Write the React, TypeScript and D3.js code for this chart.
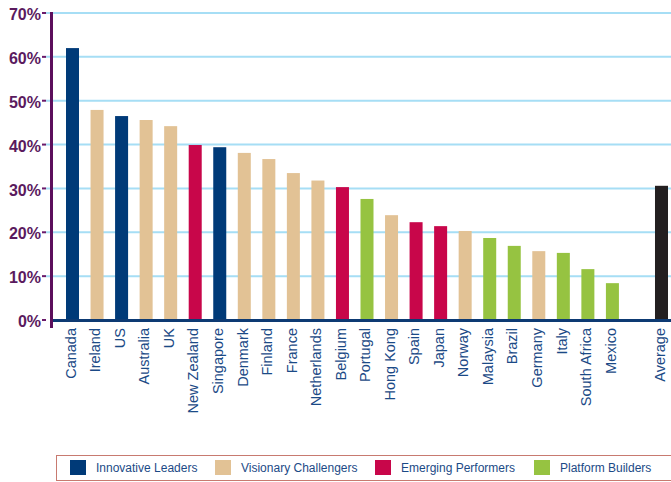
import React, { useEffect, useRef } from 'react';
import * as d3 from 'd3';

const countries = ['Canada', 'Ireland', 'US', 'Australia', 'UK', 'New Zealand', 'Singapore', 'Denmark', 'Finland', 'France', 'Netherlands', 'Belgium', 'Portugal', 'Hong Kong', 'Spain', 'Japan', 'Norway', 'Malaysia', 'Brazil', 'Germany', 'Italy', 'South Africa', 'Mexico', 'Average'];
const values = [62.0, 47.9, 46.5, 45.6, 44.2, 39.9, 39.4, 38.1, 36.7, 33.5, 31.8, 30.3, 27.6, 23.9, 22.3, 21.4, 20.3, 18.7, 16.9, 15.7, 15.3, 11.6, 8.4, 30.6];
const groups = ['IL', 'VC', 'IL', 'VC', 'VC', 'EP', 'IL', 'VC', 'VC', 'VC', 'VC', 'EP', 'PB', 'VC', 'EP', 'EP', 'VC', 'PB', 'PB', 'VC', 'PB', 'PB', 'PB', 'AVG'];
const groupKeys = ['IL', 'VC', 'EP', 'PB', 'AVG'];
const groupColors = ['#003a78', '#e2c295', '#c8064a', '#96c341', '#231f20'];
const legendLabels = ['Innovative Leaders', 'Visionary Challengers', 'Emerging Performers', 'Platform Builders'];
const yTicks = [0, 10, 20, 30, 40, 50, 60, 70];

const drawChart = (el: SVGSVGElement) => {
  const svg = d3.select(el);
  svg.selectAll('*').remove();

  const color = d3.scaleOrdinal<string, string>().domain(groupKeys).range(groupColors);
  const y = d3.scaleLinear().domain([0, 70]).range([320, 13]);
  // one empty slot before Average
  const slots = [...countries.slice(0, -1), '__gap', 'Average'];
  const x = d3.scaleBand<string>().domain(slots).range([66, 668]).paddingInner(0.47).paddingOuter(0);

  // gridlines
  svg.append('g')
    .selectAll('line')
    .data(yTicks.filter(t => t > 0))
    .join('line')
    .attr('x1', 46)
    .attr('x2', 671)
    .attr('y1', d => y(d))
    .attr('y2', d => y(d))
    .attr('stroke', '#a6def5')
    .attr('stroke-width', 2);

  // small ticks
  svg.append('g')
    .selectAll('line')
    .data(yTicks)
    .join('line')
    .attr('x1', 42)
    .attr('x2', 46)
    .attr('y1', d => y(d))
    .attr('y2', d => y(d))
    .attr('stroke', '#6a1a6a')
    .attr('stroke-width', 2);

  // y labels
  svg.append('g')
    .selectAll('text')
    .data(yTicks)
    .join('text')
    .attr('x', 41)
    .attr('y', d => y(d))
    .attr('dy', '0.45em')
    .attr('text-anchor', 'end')
    .attr('font-family', 'Liberation Sans, Arial, sans-serif')
    .attr('font-weight', 'bold')
    .attr('font-size', 16)
    .attr('fill', '#5a1a5e')
    .text(d => `${d}%`);

  // bars
  svg.append('g')
    .selectAll('rect')
    .data(countries)
    .join('rect')
    .attr('x', d => x(d) as number)
    .attr('width', x.bandwidth())
    .attr('y', (d, i) => y(values[i]))
    .attr('height', (d, i) => y(0) - y(values[i]) + (groups[i] === 'AVG' ? 2 : 0))
    .attr('fill', (d, i) => color(groups[i]));

  // baseline
  svg.append('line')
    .attr('x1', 52)
    .attr('x2', 671)
    .attr('y1', y(0) + 0.5)
    .attr('y2', y(0) + 0.5)
    .attr('stroke', '#0d3a73')
    .attr('stroke-width', 3);

  // vertical axis
  svg.append('line')
    .attr('x1', 51.5)
    .attr('x2', 51.5)
    .attr('y1', 12)
    .attr('y2', 328)
    .attr('stroke', '#5c0f5c')
    .attr('stroke-width', 3);

  // x labels
  svg.append('g')
    .selectAll('text')
    .data(countries)
    .join('text')
    .attr('transform', d => `translate(${(x(d) as number) + x.bandwidth() / 2 - 2},328) rotate(-90)`)
    .attr('dy', '0.36em')
    .attr('text-anchor', 'end')
    .attr('font-family', 'Liberation Sans, Arial, sans-serif')
    .attr('font-size', 14.5)
    .attr('fill', '#1b4a86')
    .text(d => d);

  // legend
  const legend = svg.append('g');
  legend.append('rect')
    .attr('x', 56.5)
    .attr('y', 455.5)
    .attr('width', 620)
    .attr('height', 25)
    .attr('fill', 'none')
    .attr('stroke', '#c87a70')
    .attr('stroke-width', 1);

  const itemX = [70, 215, 375, 534];
  const item = legend.selectAll('g.item')
    .data(legendLabels)
    .join('g')
    .attr('class', 'item')
    .attr('transform', (d, i) => `translate(${itemX[i]},460)`);
  item.append('rect')
    .attr('width', 16)
    .attr('height', 15)
    .attr('fill', (d, i) => color(groupKeys[i]));
  item.append('text')
    .attr('x', 26)
    .attr('y', 8)
    .attr('dy', '0.36em')
    .attr('font-family', 'Liberation Sans, Arial, sans-serif')
    .attr('font-size', 12)
    .attr('fill', '#1b4a86')
    .text(d => d);
};

export default function App() {
  const ref = useRef<SVGSVGElement>(null);
  useEffect(() => {
    if (ref.current) drawChart(ref.current);
  }, []);
  return (
    <svg
      ref={ref}
      width={671}
      height={482}
      style={{ position: 'absolute', left: 0, top: 0, background: '#fff' }}
    />
  );
}
